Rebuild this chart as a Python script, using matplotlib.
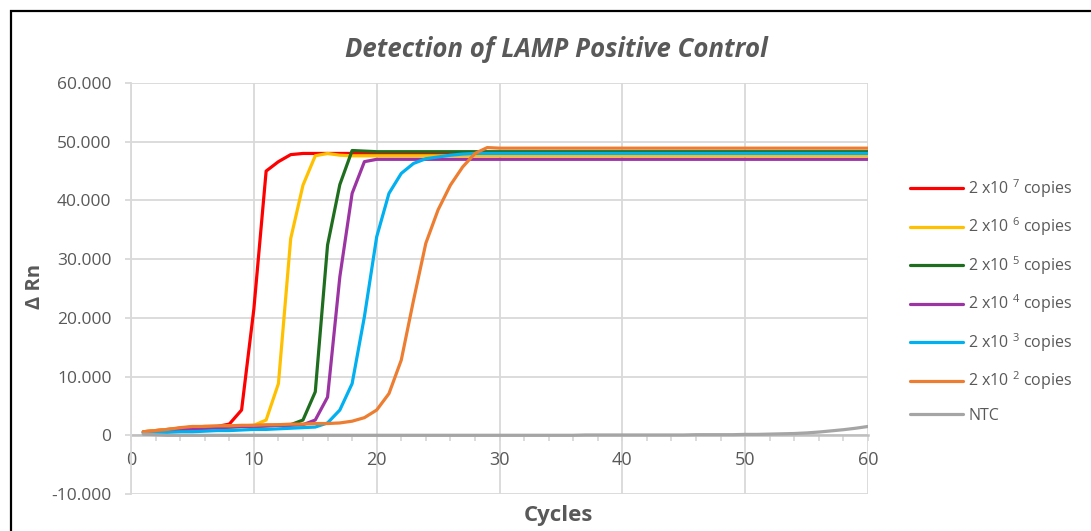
import matplotlib
matplotlib.use("Agg")
import matplotlib.pyplot as plt
from matplotlib.patches import Rectangle
from matplotlib.ticker import MultipleLocator, FuncFormatter

plt.rcParams["font.family"] = ["Open Sans", "DejaVu Sans"]
plt.rcParams["mathtext.fontset"] = "custom"
plt.rcParams["mathtext.rm"] = "Open Sans"

TEXT = "#595959"

cycles = list(range(1, 61))

red_1e7 = [0.6, 0.8, 1.0, 1.2, 1.4, 1.5, 1.5, 1.9, 4.3, 21.5,
           45.0, 46.6, 47.8, 48.0, 48.0, 48.0, 48.0, 48.0, 48.0, 48.0,
           48.0, 48.0, 48.0, 48.0, 48.0, 48.0, 48.0, 48.0, 48.0, 48.0,
           48.0, 48.0, 48.0, 48.0, 48.0, 48.0, 48.0, 48.0, 48.0, 48.0,
           48.0, 48.0, 48.0, 48.0, 48.0, 48.0, 48.0, 48.0, 48.0, 48.0,
           48.0, 48.0, 48.0, 48.0, 48.0, 48.0, 48.0, 48.0, 48.0, 48.0]
yellow_1e6 = [0.6, 0.8, 1.0, 1.2, 1.4, 1.5, 1.5, 1.6, 1.6, 1.7,
              2.6, 8.8, 33.5, 42.6, 47.6, 48.0, 47.7, 47.6, 47.6, 47.6,
              47.6, 47.6, 47.6, 47.6, 47.6, 47.6, 47.6, 47.6, 47.6, 47.6,
              47.6, 47.6, 47.6, 47.6, 47.6, 47.6, 47.6, 47.6, 47.6, 47.6,
              47.6, 47.6, 47.6, 47.6, 47.6, 47.6, 47.6, 47.6, 47.6, 47.6,
              47.6, 47.6, 47.6, 47.6, 47.6, 47.6, 47.6, 47.6, 47.6, 47.6]
green_1e5 = [0.5, 0.6, 0.8, 1.0, 1.1, 1.2, 1.3, 1.4, 1.5, 1.5,
             1.6, 1.7, 1.8, 2.6, 7.4, 32.4, 42.7, 48.5, 48.4, 48.3,
             48.3, 48.3, 48.3, 48.3, 48.3, 48.3, 48.3, 48.3, 48.3, 48.3,
             48.3, 48.3, 48.3, 48.3, 48.3, 48.3, 48.3, 48.3, 48.3, 48.3,
             48.3, 48.3, 48.3, 48.3, 48.3, 48.3, 48.3, 48.3, 48.3, 48.3,
             48.3, 48.3, 48.3, 48.3, 48.3, 48.3, 48.3, 48.3, 48.3, 48.3]
purple_1e4 = [0.5, 0.6, 0.8, 1.0, 1.1, 1.2, 1.3, 1.4, 1.5, 1.5,
              1.6, 1.7, 1.7, 1.8, 2.6, 6.5, 27.0, 41.2, 46.6, 47.0,
              47.0, 47.0, 47.0, 47.0, 47.0, 47.0, 47.0, 47.0, 47.0, 47.0,
              47.0, 47.0, 47.0, 47.0, 47.0, 47.0, 47.0, 47.0, 47.0, 47.0,
              47.0, 47.0, 47.0, 47.0, 47.0, 47.0, 47.0, 47.0, 47.0, 47.0,
              47.0, 47.0, 47.0, 47.0, 47.0, 47.0, 47.0, 47.0, 47.0, 47.0]
cyan_1e3 = [0.3, 0.4, 0.5, 0.6, 0.6, 0.7, 0.8, 0.8, 0.9, 1.0,
            1.0, 1.1, 1.2, 1.3, 1.4, 2.1, 4.3, 8.8, 20.2, 33.8,
            41.2, 44.6, 46.3, 47.1, 47.4, 47.7, 47.9, 48.0, 48.0, 48.0,
            48.0, 48.0, 48.0, 48.0, 48.0, 48.0, 48.0, 48.0, 48.0, 48.0,
            48.0, 48.0, 48.0, 48.0, 48.0, 48.0, 48.0, 48.0, 48.0, 48.0,
            48.0, 48.0, 48.0, 48.0, 48.0, 48.0, 48.0, 48.0, 48.0, 48.0]
orange_1e2 = [0.6, 0.8, 1.0, 1.3, 1.5, 1.5, 1.6, 1.6, 1.7, 1.7,
              1.8, 1.8, 1.9, 1.9, 2.0, 2.0, 2.1, 2.4, 3.0, 4.3,
              7.1, 12.8, 23.0, 32.7, 38.4, 42.6, 45.7, 48.0, 49.0, 48.9,
              48.9, 48.9, 48.9, 48.9, 48.9, 48.9, 48.9, 48.9, 48.9, 48.9,
              48.9, 48.9, 48.9, 48.9, 48.9, 48.9, 48.9, 48.9, 48.9, 48.9,
              48.9, 48.9, 48.9, 48.9, 48.9, 48.9, 48.9, 48.9, 48.9, 48.9]
ntc = [0.2, 0.1, 0.0, 0.0, 0.0, 0.0, 0.0, 0.0, 0.0, 0.0,
       0.0, 0.0, 0.0, 0.0, 0.0, 0.0, 0.0, 0.0, 0.0, 0.0,
       0.0, 0.0, 0.0, 0.0, 0.0, 0.0, 0.0, 0.0, 0.0, 0.0,
       0.0, 0.0, 0.0, 0.0, 0.0, 0.0, 0.05, 0.05, 0.05, 0.05,
       0.05, 0.05, 0.05, 0.05, 0.05, 0.1, 0.1, 0.1, 0.1, 0.15,
       0.15, 0.2, 0.25, 0.3, 0.4, 0.55, 0.75, 0.95, 1.2, 1.5]

series = [
    (red_1e7, "#ff0000", "2 x10 $^{\\mathregular{7}}$ copies"),
    (yellow_1e6, "#ffc000", "2 x10 $^{\\mathregular{6}}$ copies"),
    (green_1e5, "#1f6e1f", "2 x10 $^{\\mathregular{5}}$ copies"),
    (purple_1e4, "#9c35a3", "2 x10 $^{\\mathregular{4}}$ copies"),
    (cyan_1e3, "#00b0f0", "2 x10 $^{\\mathregular{3}}$ copies"),
    (orange_1e2, "#ed7d31", "2 x10 $^{\\mathregular{2}}$ copies"),
    (ntc, "#a5a5a5", "NTC"),
]

fig = plt.figure(figsize=(10.91, 5.31), dpi=100)
ax = fig.add_axes([0.1201, 0.0697, 0.6755, 0.7740])

for vals, col, lab in series:
    ax.plot(cycles, vals, color=col, lw=2.3, label=lab, solid_capstyle="round", zorder=3)

ax.set_xlim(0, 60)
ax.set_ylim(-10, 60)
ax.xaxis.set_major_locator(MultipleLocator(10))
ax.xaxis.set_minor_locator(MultipleLocator(2))
ax.yaxis.set_major_locator(MultipleLocator(10))
ax.yaxis.set_major_formatter(FuncFormatter(lambda v, p: "0" if v == 0 else f"{v:.3f}"))
ax.grid(True, which="major", color="#d9d9d9", lw=1.3, zorder=0)

for s in ["top", "right"]:
    ax.spines[s].set_visible(False)
ax.spines["bottom"].set_position(("data", 0))
ax.spines["bottom"].set_color("#bfbfbf")
ax.spines["bottom"].set_linewidth(1.8)
ax.spines["bottom"].set_zorder(2)
ax.spines["left"].set_color("#d9d9d9")
ax.spines["left"].set_linewidth(1.3)

ax.tick_params(axis="y", colors="#d9d9d9", labelcolor=TEXT, labelsize=12.5, length=4, width=1.3, pad=10)
ax.tick_params(axis="x", which="major", colors="#d9d9d9", labelcolor=TEXT, labelsize=13, length=4, width=1.3, pad=7)
ax.tick_params(axis="x", which="minor", colors="#d9d9d9", length=4, width=1.3)

fig.text(0.51, 0.907, "Detection of LAMP Positive Control", ha="center", va="center",
         fontsize=18.5, fontweight="bold", fontstyle="italic", color=TEXT)
fig.text(0.512, 0.029, "Cycles", ha="center", va="center", fontsize=16, fontweight="bold", color=TEXT)
fig.text(0.032, 0.461, "Δ Rn", ha="center", va="center", rotation=90, fontsize=14.5,
         fontweight="bold", color=TEXT)

leg = ax.legend(loc="upper left", bbox_to_anchor=(0.834, 0.666), bbox_transform=fig.transFigure,
                frameon=False, fontsize=11.5, handlelength=3.3, handletextpad=0.35,
                labelspacing=0.985, borderpad=0, borderaxespad=0)
for t in leg.get_texts():
    t.set_color(TEXT)

fig.patches.append(Rectangle((11 / 1091, -0.05), 1.2, 1.05 - 11 / 531, transform=fig.transFigure,
                             fill=False, edgecolor="black", lw=1.6, zorder=10))

fig.savefig("out.png", dpi=100)
